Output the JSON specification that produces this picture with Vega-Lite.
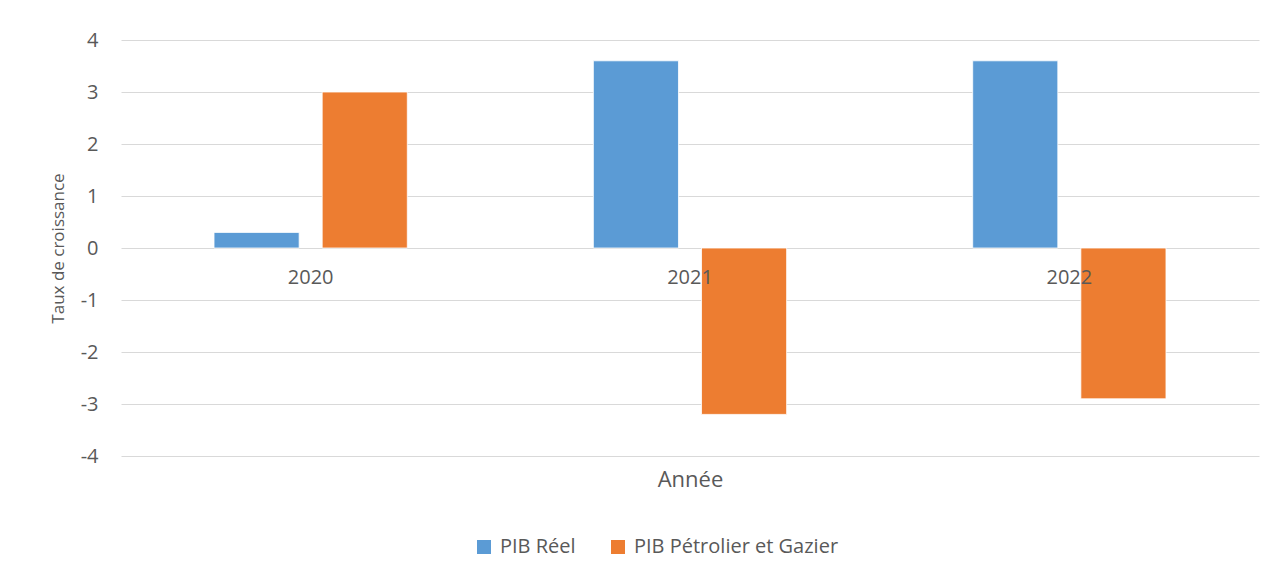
{
  "$schema": "https://vega.github.io/schema/vega-lite/v6.json",
  "autosize": {"type": "none"},
  "width": 1138,
  "height": 416,
  "padding": {"left": 121, "top": 40, "right": 17, "bottom": 122},
  "background": "white",
  "config": {
    "font": "Open Sans",
    "view": {"stroke": null}
  },
  "data": {
    "values": [
      {"annee": "2020", "serie": "PIB Réel", "taux": 0.3},
      {"annee": "2020", "serie": "PIB Pétrolier et Gazier", "taux": 3.0},
      {"annee": "2021", "serie": "PIB Réel", "taux": 3.6},
      {"annee": "2021", "serie": "PIB Pétrolier et Gazier", "taux": -3.2},
      {"annee": "2022", "serie": "PIB Réel", "taux": 3.6},
      {"annee": "2022", "serie": "PIB Pétrolier et Gazier", "taux": -2.9}
    ]
  },
  "mark": {"type": "bar", "stroke": "white", "strokeWidth": 0.8},
  "encoding": {
    "x": {
      "field": "annee",
      "type": "nominal",
      "scale": {"paddingInner": 0, "paddingOuter": 0},
      "axis": {
        "title": "Année",
        "titleFontSize": 22,
        "titleFontWeight": "normal",
        "titleColor": "#595959",
        "titleY": 238,
        "titleBaseline": "alphabetic",
        "offset": -208,
        "domain": false,
        "ticks": false,
        "labelAngle": 0,
        "labelFontSize": 20,
        "labelColor": "#595959",
        "labelPadding": 19,
        "zindex": 1
      }
    },
    "xOffset": {
      "field": "serie",
      "type": "nominal",
      "sort": ["PIB Réel", "PIB Pétrolier et Gazier"],
      "scale": {"paddingInner": 0.213, "paddingOuter": 0.86}
    },
    "y": {
      "field": "taux",
      "type": "quantitative",
      "scale": {"domain": [-4, 4], "nice": false},
      "axis": {
        "title": "Taux de croissance",
        "titleFontSize": 17,
        "titleFontWeight": "normal",
        "titleColor": "#595959",
        "titleX": -63,
        "titleY": 208,
        "titleBaseline": "middle",
        "values": [-4, -3, -2, -1, 0, 1, 2, 3, 4],
        "labelExpr": "'' + datum.value",
        "domain": false,
        "ticks": false,
        "labelFontSize": 20,
        "labelColor": "#595959",
        "labelPadding": 23,
        "gridColor": "#D9D9D9",
        "gridWidth": 1.2
      }
    },
    "color": {
      "field": "serie",
      "type": "nominal",
      "scale": {
        "domain": ["PIB Réel", "PIB Pétrolier et Gazier"],
        "range": ["#5B9BD5", "#ED7D31"]
      },
      "legend": {
        "title": null,
        "orient": "none",
        "direction": "horizontal",
        "legendX": 353,
        "legendY": 497,
        "symbolType": "square",
        "symbolSize": 196,
        "symbolStrokeWidth": 0,
        "labelFontSize": 20,
        "labelLimit": 0,
        "labelColor": "#595959",
        "labelOffset": 6,
        "columnPadding": 32
      }
    }
  }
}
